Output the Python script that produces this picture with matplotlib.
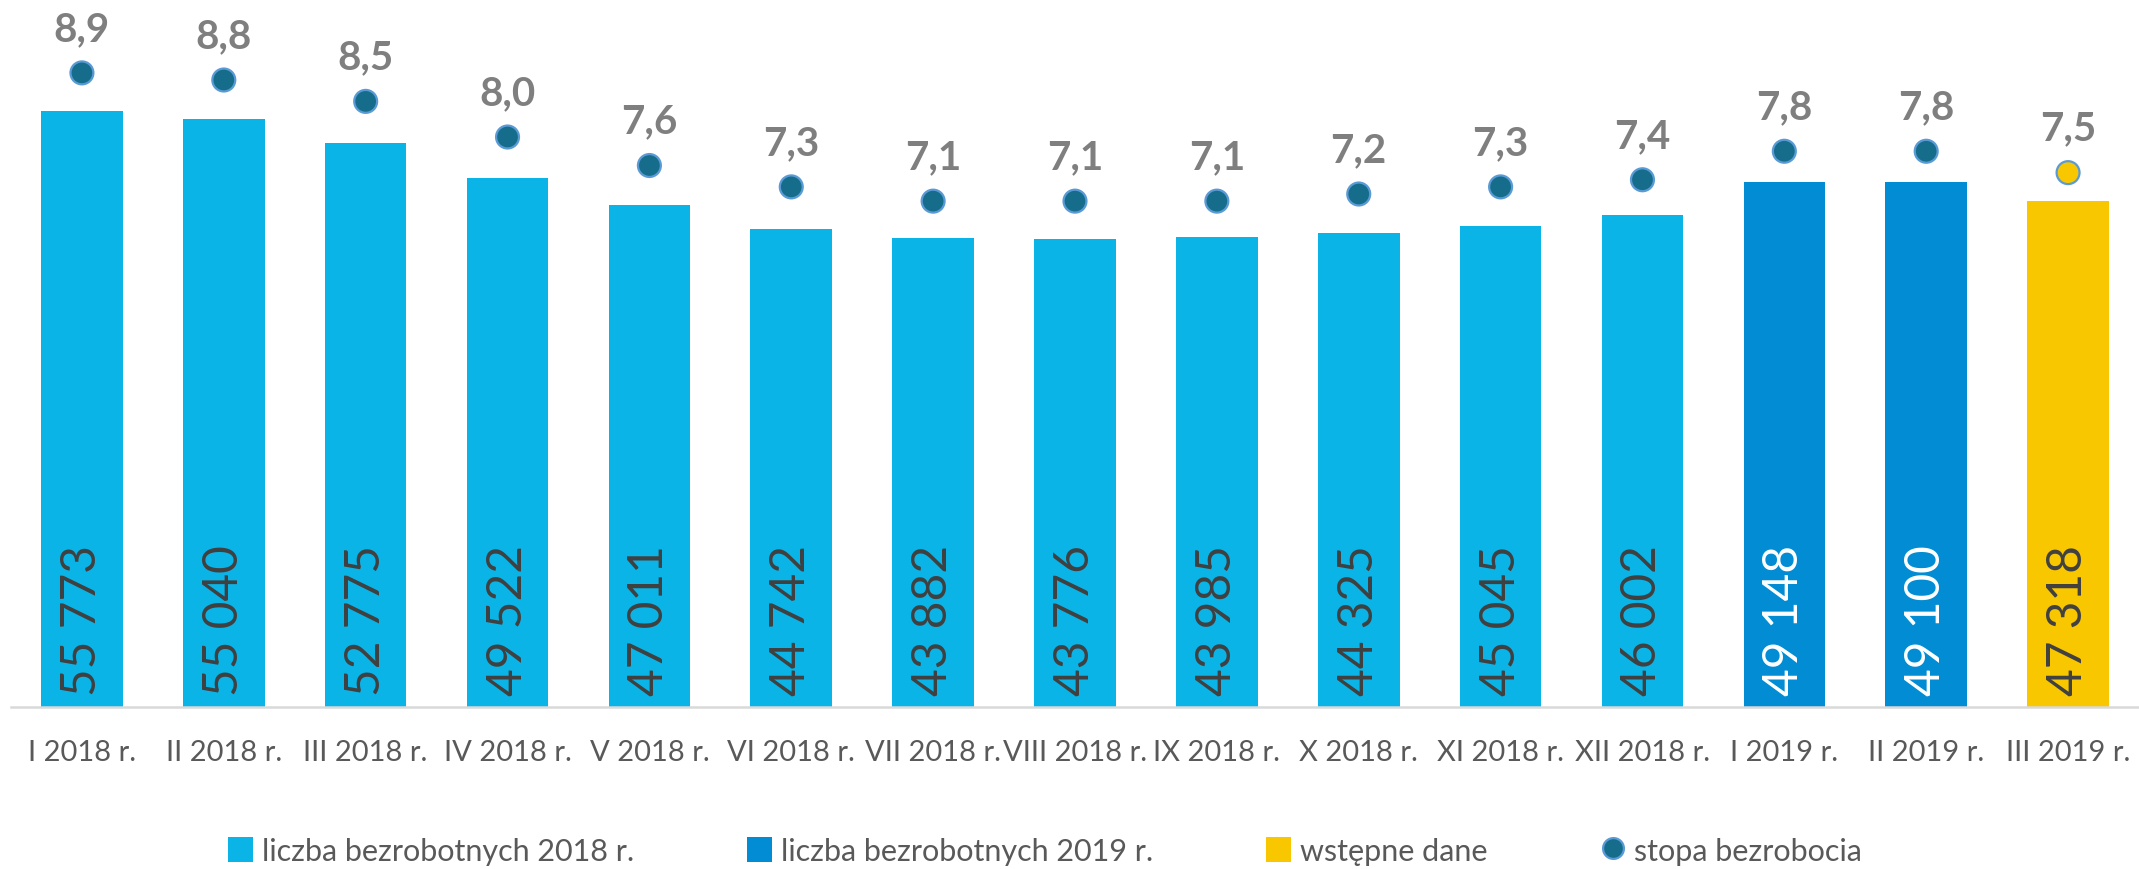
#!/usr/bin/env python3
"""Bar chart of registered unemployed with the unemployment rate on a second axis."""
from __future__ import annotations

import matplotlib
matplotlib.use("Agg")
import matplotlib.pyplot as plt
import numpy as np
from matplotlib.lines import Line2D
from matplotlib.patches import Patch

MONTHS = [
    "I 2018 r.", "II 2018 r.", "III 2018 r.", "IV 2018 r.", "V 2018 r.", "VI 2018 r.",
    "VII 2018 r.", "VIII 2018 r.", "IX 2018 r.", "X 2018 r.", "XI 2018 r.", "XII 2018 r.",
    "I 2019 r.", "II 2019 r.", "III 2019 r.",
]
UNEMPLOYED = [55773, 55040, 52775, 49522, 47011, 44742, 43882, 43776, 43985, 44325,
              45045, 46002, 49148, 49100, 47318]
RATE = [8.9, 8.8, 8.5, 8.0, 7.6, 7.3, 7.1, 7.1, 7.1, 7.2, 7.3, 7.4, 7.8, 7.8, 7.5]
# 0 = 2018, 1 = 2019, 2 = preliminary
GROUP = [0] * 12 + [1, 1, 2]
LEGEND_LABELS = ["liczba bezrobotnych 2018 r.", "liczba bezrobotnych 2019 r.",
                 "wstępne dane", "stopa bezrobocia"]

BAR_COLORS = ["#0BB4E6", "#018CD3", "#F8C700"]
BAR_TEXT = ["#404040", "#FFFFFF", "#404040"]
DOT_FILL = "#156D8B"
DOT_EDGE = "#5B9BD5"
FONT = ["Lato", "DejaVu Sans"]


def fmt_thousands(v: int) -> str:
    return f"{v:,}".replace(",", " ")


def main() -> None:
    plt.rcParams["font.family"] = FONT
    fig = plt.figure(figsize=(21.39, 8.7), dpi=100)
    ax = fig.add_axes([0.00514, 0.1862, 0.99486, 0.8138])
    x = np.arange(len(MONTHS))

    colors = [BAR_COLORS[g] for g in GROUP]
    ax.bar(x, UNEMPLOYED, width=0.575, color=colors, zorder=2)
    for xi, v, g in zip(x, UNEMPLOYED, GROUP):
        ax.annotate(fmt_thousands(v), (xi, 0), xytext=(0, 9), textcoords="offset points",
                    rotation=90, ha="center", va="bottom", fontsize=34.5,
                    color=BAR_TEXT[g])

    ax.set_xlim(-0.5, len(MONTHS) - 0.5)
    ax.set_ylim(0, 66254)
    ax.set_yticks([])
    ax.set_xticks(x)
    ax.set_xticklabels(MONTHS, fontsize=21, color="#595959")
    ax.tick_params(axis="x", length=0, pad=23)
    for side in ["top", "right", "left"]:
        ax.spines[side].set_visible(False)
    ax.spines["bottom"].set_color("#D9D9D9")
    ax.spines["bottom"].set_linewidth(1.8)

    ax2 = ax.twinx()
    ax2.set_ylim(0, 9.937)
    ax2.set_axis_off()
    dot_colors = [BAR_COLORS[2] if g == 2 else DOT_FILL for g in GROUP]
    ax2.scatter(x, RATE, s=16.5 ** 2, c=dot_colors, edgecolors=DOT_EDGE,
                linewidths=1.6, zorder=3)
    for xi, r in zip(x, RATE):
        ax2.annotate(f"{r:.1f}".replace(".", ","), (xi, r), xytext=(0, 32),
                     textcoords="offset points", ha="center", va="center",
                     fontsize=29, fontweight="bold", color="#7F7F7F")

    handles = [Patch(facecolor=c, edgecolor="none") for c in BAR_COLORS]
    handles.append(Line2D([], [], linestyle="none", marker="o", markersize=15,
                          markerfacecolor=DOT_FILL, markeredgecolor=DOT_EDGE,
                          markeredgewidth=1.6))
    fig.legend(handles, LEGEND_LABELS, loc="center", bbox_to_anchor=(0.4886, 0.021),
               ncol=4, frameon=False, fontsize=22, labelcolor="#595959",
               handlelength=0.8, handleheight=0.9, handletextpad=0.3,
               columnspacing=3.7)

    fig.savefig("out.png", dpi=100)
    plt.close(fig)


if __name__ == "__main__":
    main()
